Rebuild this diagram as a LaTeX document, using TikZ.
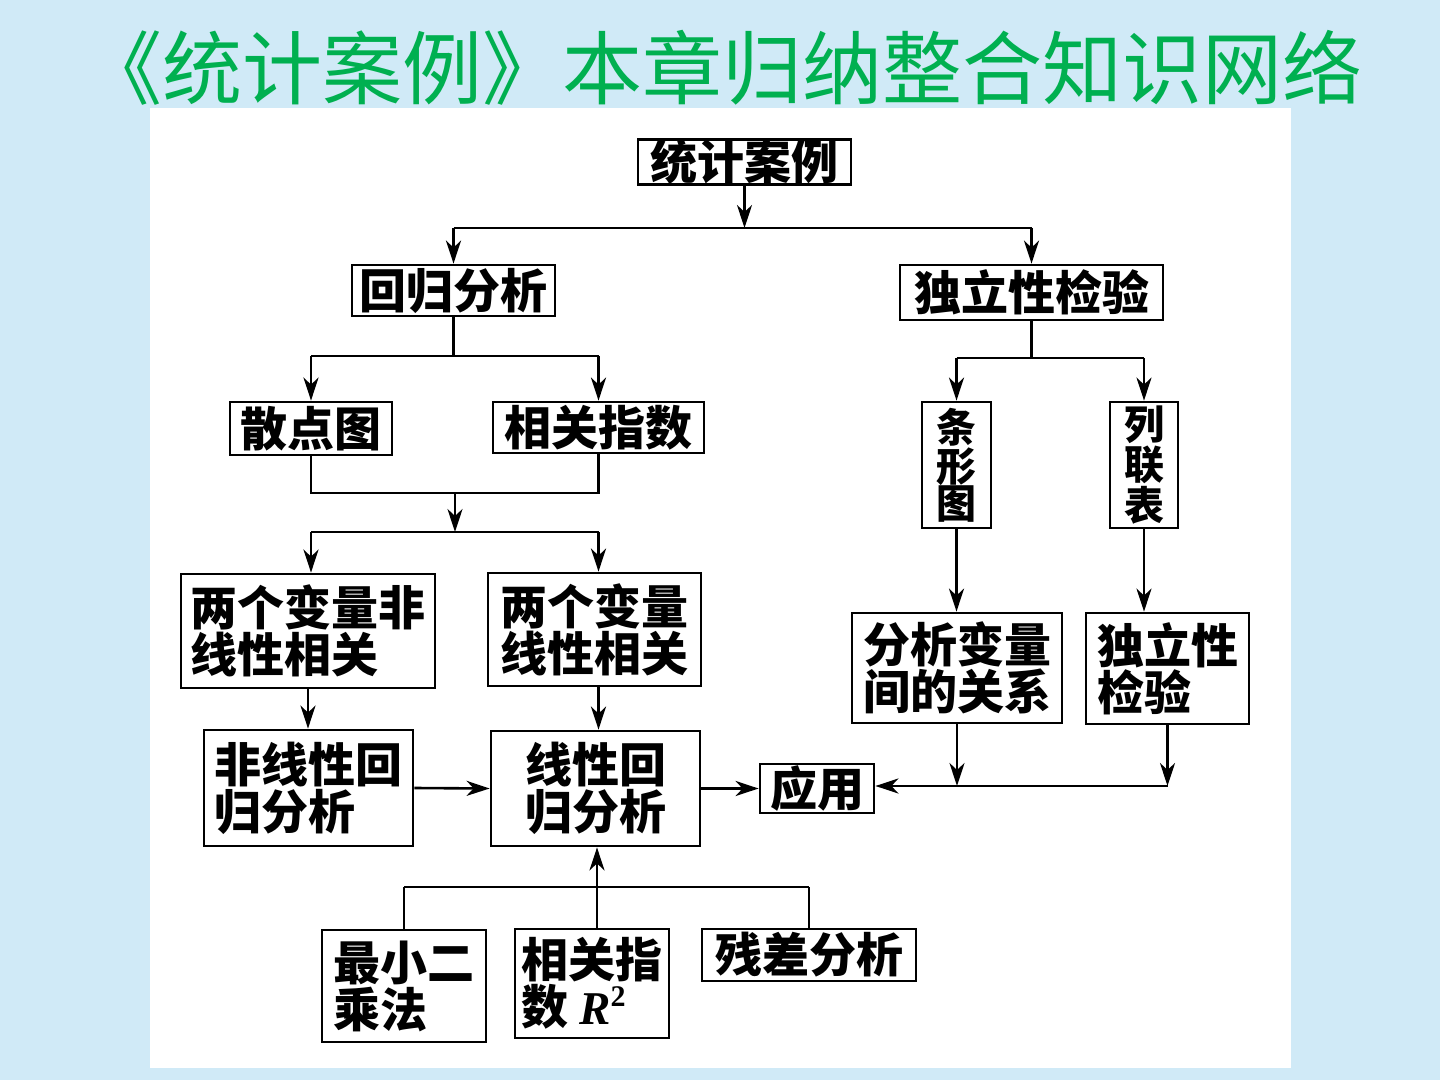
\documentclass[tikz,border=0pt]{standalone}
\usepackage{fontspec}
\usetikzlibrary{arrows.meta}
\newfontfamily\cjk{Noto Sans CJK SC}
\newfontfamily\serifR{Liberation Serif}
\definecolor{bgblue}{RGB}{208,234,247}
\definecolor{titlegreen}{RGB}{0,176,80}
\tikzset{
  box/.style={draw, line width=1.4pt, inner sep=0pt, align=left,
    font=\cjk\bfseries\fontsize{23.5}{23.5}\selectfont},
  vbox/.style={draw, line width=1.4pt, inner sep=0pt, align=center,
    font=\cjk\bfseries\fontsize{20}{18.5}\selectfont},
  conn/.style={line width=1.3pt},
  arr/.style={line width=1.3pt, -{Stealth[length=11.5pt,width=7.5pt,inset=3.5pt]}},
}
\begin{document}
\begin{tikzpicture}[x=0.5pt,y=-0.5pt]
\useasboundingbox (0,0) rectangle (1440,1080);
\fill[bgblue] (0,0) rectangle (1440,1080);
\fill[white] (150,108) rectangle (1291,1068);
\node[text=titlegreen, font=\cjk\fontsize{40}{41}\selectfont, inner sep=0pt] (title) at (722,68) {《统计案例》本章归纳整合知识网络};

% nodes
\node[box, minimum width=106.5pt, minimum height=22pt] (top) at (744.5,162) {统计案例};
\node[box, minimum width=101.5pt, minimum height=25.5pt] (hg) at (453.5,290.5) {回归分析};
\node[box, minimum width=131.5pt, minimum height=27.5pt] (dl) at (1031.5,292.5) {独立性检验};
\node[box, minimum width=81pt, minimum height=26.5pt] (sd) at (311,428.5) {散点图};
\node[box, minimum width=105.5pt, minimum height=25.5pt] (xg) at (598.5,427.5) {相关指数};
\node[vbox, minimum width=34.5pt, minimum height=63pt] (txt) at (956.5,465) {条\\形\\图};
\node[vbox, minimum width=34pt, minimum height=63pt] (llb) at (1144,465) {列\\联\\表};
\node[box, minimum width=127pt, minimum height=57pt] (fx) at (308,631) {两个变量非\\线性相关};
\node[box, minimum width=106.5pt, minimum height=56.5pt] (lx) at (594.5,629.5) {两个变量\\线性相关};
\node[box, minimum width=104.5pt, minimum height=58pt] (fxhg) at (308.5,788) {非线性回\\归分析};
\node[box, minimum width=104.5pt, minimum height=57.5pt, align=center] (xxhg) at (595.5,788.5) {线性回\\归分析};
\node[box, minimum width=57pt, minimum height=24.5pt] (yy) at (817,788.5) {应用};
\node[box, minimum width=105pt, minimum height=55pt] (fxbl) at (957,668) {分析变量\\间的关系};
\node[box, minimum width=81.5pt, minimum height=55.5pt] (dl2) at (1167.5,668.5) {独立性\\检验};
\node[box, minimum width=82pt, minimum height=56pt] (zx) at (404,986) {最小二\\乘法};
\node[box, minimum width=77pt, minimum height=54.5pt] (r2) at (592,983.5) {相关指\\数 {\serifR\bfseries\itshape R}\raisebox{0.7ex}{\serifR\fontsize{15}{15}\selectfont 2}};
\node[box, minimum width=107pt, minimum height=26pt] (cc) at (809,955) {残差分析};

% coordinates for junction levels
\coordinate (y1) at (0,228);
\coordinate (y2) at (0,356);
\coordinate (y3) at (0,493);
\coordinate (y4) at (0,532);
\coordinate (y5) at (0,358);
\coordinate (y6) at (0,786);
\coordinate (y7) at (0,887);
\coordinate (m3) at (455,493);

% top split
\draw[arr] (top.south) -- (top.south |- y1);
\draw[conn] (hg.north |- y1) -- (dl.north |- y1);
\draw[arr] (hg.north |- y1) -- (hg.north);
\draw[arr] (dl.north |- y1) -- (dl.north);

% regression split
\draw[conn] (hg.south) -- (hg.south |- y2);
\draw[conn] (sd.north |- y2) -- (xg.north |- y2);
\draw[arr] (sd.north |- y2) -- (sd.north);
\draw[arr] (xg.north |- y2) -- (xg.north);

% merge
\draw[conn] (sd.south) -- (sd.south |- y3) -- (xg.south |- y3) -- (xg.south);
\draw[arr] (m3) -- (m3 |- y4);
\draw[conn] (sd.south |- y4) -- (xg.south |- y4);
\draw[arr] (sd.south |- y4) -- (sd.south |- fx.north);
\draw[arr] (xg.south |- y4) -- (xg.south |- lx.north);

\draw[arr] (fx.south) -- (fx.south |- fxhg.north);
\draw[arr] (xg.south |- lx.south) -- (xg.south |- xxhg.north);
\draw[arr] (fxhg.east) -- (xxhg.west);
\draw[arr] (xxhg.east) -- (yy.west);

% independence split
\draw[conn] (dl.south) -- (dl.south |- y5);
\draw[conn] (txt.north |- y5) -- (llb.north |- y5);
\draw[arr] (txt.north |- y5) -- (txt.north);
\draw[arr] (llb.north |- y5) -- (llb.north);
\draw[arr] (txt.south) -- (txt.south |- fxbl.north);
\draw[arr] (llb.south) -- (llb.south |- dl2.north);

% to application
\draw[arr] (fxbl.south) -- (fxbl.south |- y6);
\draw[arr] (dl2.south) -- (dl2.south |- y6);
\draw[arr] (dl2.south |- y6) -- (yy.east |- y6);

% bottom
\draw[conn] (zx.north |- y7) -- (cc.north |- y7);
\draw[conn] (zx.north |- y7) -- (zx.north);
\draw[conn] (cc.north |- y7) -- (cc.north);
\coordinate (bj) at (597,887);
\draw[conn] (bj) -- (bj |- r2.north);
\draw[arr] (bj) -- (bj |- xxhg.south);
\end{tikzpicture}
\end{document}
